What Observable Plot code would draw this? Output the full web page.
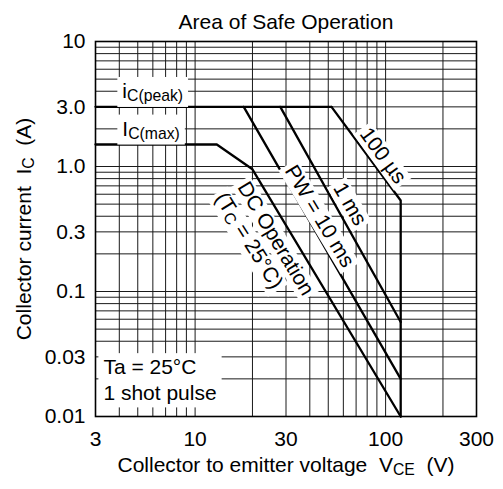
<!DOCTYPE html>
<html><head><meta charset="utf-8">
<script src="https://cdn.jsdelivr.net/npm/d3@7"></script>
<script src="https://cdn.jsdelivr.net/npm/@observablehq/plot@0.6"></script>
<style>
html,body{margin:0;padding:0;background:#fff;}
svg text{white-space:pre;}
</style></head><body><div id="chart"></div>
<script>
// ---- data ----
const xTicks = [3, 10, 30, 100, 300];
const xTickLabels = ["3", "10", "30", "100", "300"];
const yTicks = [0.01, 0.03, 0.1, 0.3, 1, 3, 10];
const yTickLabels = ["0.01", "0.03", "0.1", "0.3", "1.0", "3.0", "10"];
const xGrid = [4, 5, 6, 7, 8, 9, 10, 20, 30, 40, 50, 60, 70, 80, 90, 100, 200];
const yGrid = [0.02, 0.03, 0.04, 0.05, 0.06, 0.07, 0.08, 0.09,
               0.1, 0.2, 0.3, 0.4, 0.5, 0.6, 0.7, 0.8, 0.9,
               1, 2, 3, 4, 5, 6, 7, 8, 9];
// SOA boundaries (V_CE in V, I_C in A)
const seriesNames = ["peak", "100us", "1ms", "10ms", "dc"];
const seriesV = [
  [3, 52],
  [52, 120, 120],
  [28, 120],
  [18, 120],
  [3, 13, 20, 120]
];
const seriesI = [
  [3, 3],
  [3, 0.535, 0.01],
  [3, 0.057],
  [3, 0.02],
  [1.5, 1.5, 0.95, 0.01]
];
// annotation texts and anchor points (data units)
const labelText = ["i_{C(peak)}", "I_{C(max)}", "Ta = 25°C\n1 shot pulse",
                   "100 µs", "1 ms", "PW = 10 ms", "DC Operation", "(T_{C} = 25°C)"];
const labelV = [4.15, 4.15, 3.3, 97, 65, 45, 26.5, 19.2];
const labelI = [4.0, 2.0, 0.02, 1.22, 0.5, 0.4, 0.265, 0.255];

const rows = seriesNames.flatMap((n, k) => seriesV[k].map((v, j) => ({name: n, v, i: seriesI[k][j]})));
const lbl = labelText.map((t, k) => ({t, v: labelV[k], i: labelI[k]}));

const fontFamily = "'Liberation Sans', Arial, Helvetica, sans-serif";
const FS = 21;

function label(k, opts) {
  return Plot.text([lbl[k]], {x: "v", y: "i", text: "t", fontSize: FS, fill: "black", ...opts});
}

const plot = Plot.plot({
  width: 503, height: 489,
  marginLeft: 95, marginRight: 27, marginTop: 41, marginBottom: 73,
  style: {fontFamily, fontSize: FS + "px", background: "white", color: "black", overflow: "visible"},
  x: {type: "log", domain: [3, 300], axis: null},
  y: {type: "log", domain: [0.01, 10], axis: null},
  marks: [
    Plot.ruleX(xGrid, {stroke: "#1a1a1a", strokeWidth: 1}),
    Plot.ruleY(yGrid, {stroke: "#1a1a1a", strokeWidth: 1}),
    Plot.frame({stroke: "black", strokeWidth: 1.6}),
    Plot.line(rows, {x: "v", y: "i", z: "name", stroke: "black", strokeWidth: 2.3}),
    label(0, {textAnchor: "start"}),
    label(1, {textAnchor: "start"}),
    label(2, {textAnchor: "start", lineHeight: 1.25}),
    label(3, {rotate: 54}),
    label(4, {rotate: 60}),
    label(5, {rotate: 59}),
    label(6, {rotate: 59}),
    label(7, {rotate: 58}),
    Plot.text(xTicks, {x: d => d, text: d => xTickLabels[xTicks.indexOf(d)], frameAnchor: "bottom",
      lineAnchor: "top", dy: 15, fontSize: FS}),
    Plot.text(yTicks, {y: d => d, text: d => yTickLabels[yTicks.indexOf(d)], frameAnchor: "left",
      textAnchor: "end", dx: -10, fontSize: FS}),
    Plot.text(["Area of Safe Operation"], {frameAnchor: "top", dy: -27, fontSize: FS}),
    Plot.text(["Collector to emitter voltage  V_{CE}  (V)"], {frameAnchor: "bottom", textAnchor: "middle", dy: 55, fontSize: FS}),
    Plot.text(["Collector current  I_{C}  (A)"], {frameAnchor: "left", textAnchor: "middle", rotate: -90, dx: -71, fontSize: FS})
  ]
});
document.getElementById("chart").appendChild(plot);

const NS = "http://www.w3.org/2000/svg";
// identify annotation labels (before rewriting into tspans)
const labelKeys = new Set(labelText.map(s => s.replace(/\n/g, "")));
const labelEls = Array.from(plot.querySelectorAll("text")).filter(t => labelKeys.has(t.textContent));

// subscripts
plot.querySelectorAll("text").forEach(t => {
  if (t.querySelector("tspan")) return;
  const s = t.textContent;
  if (!s.includes("_{")) return;
  t.textContent = "";
  const re = /_\{([^}]*)\}/g;
  let last = 0, m, shifted = false;
  const add = (str, sub) => {
    const ts = document.createElementNS(NS, "tspan");
    ts.textContent = str;
    if (sub) { ts.setAttribute("font-size", "0.75em"); ts.setAttribute("dy", "3px"); shifted = true; }
    else if (shifted) { ts.setAttribute("dy", "-3px"); shifted = false; }
    t.appendChild(ts);
  };
  while ((m = re.exec(s))) {
    if (m.index > last) add(s.slice(last, m.index), false);
    add(m[1], true);
    last = re.lastIndex;
  }
  if (last < s.length) add(s.slice(last), false);
});

// white backgrounds behind annotation labels
if (labelEls.length) {
  const first = labelEls[0].parentNode;
  const bg = document.createElementNS(NS, "g");
  first.parentNode.insertBefore(bg, first);
  labelEls.forEach(t => {
    const g = t.parentNode;
    const tr = t.getAttribute("transform") || "";
    const rotated = /rotate/.test(tr);
    const padX = rotated ? 3 : 5, padTop = rotated ? 0 : 4, padBot = rotated ? 1 : 3;
    const b = t.getBBox();
    const r = document.createElementNS(NS, "rect");
    r.setAttribute("x", b.x - padX);
    r.setAttribute("y", b.y + 2 - padTop);
    r.setAttribute("width", b.width + 2 * padX);
    r.setAttribute("height", b.height - 2 + padTop + padBot);
    r.setAttribute("fill", "white");
    r.setAttribute("transform", (g.getAttribute("transform") || "") + " " + tr);
    bg.appendChild(r);
  });
}
</script></body></html>
